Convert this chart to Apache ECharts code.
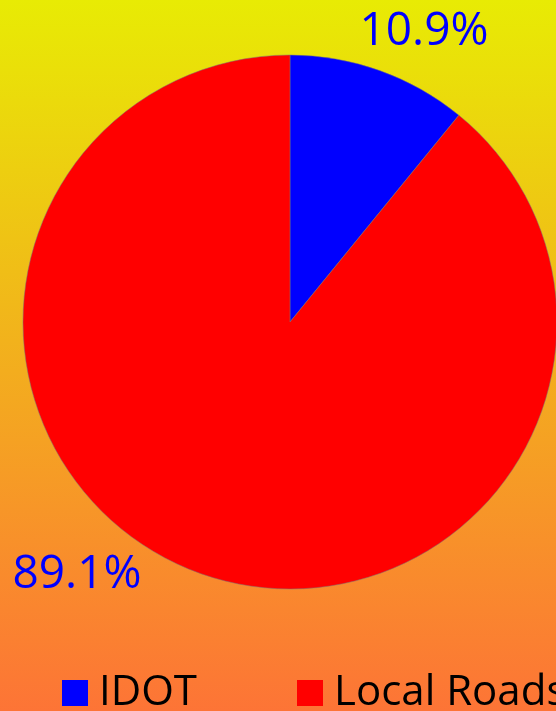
<!DOCTYPE html>
<html>
<head>
<meta charset="utf-8">
<script src="https://cdn.jsdelivr.net/npm/echarts@6/dist/echarts.min.js"></script>
<style>
  html, body { margin: 0; padding: 0; }
  #main { width: 556px; height: 711px; }
</style>
</head>
<body>
<div id="main"></div>
<script>
const categories = ['IDOT', 'Local Roads'];
const shares = [10.9, 89.1];
const sliceColors = ['#0000ff', '#ff0000'];

// label anchor spots, relative to the pie center
const labelSpots = [[134, -290], [-213, 253]];

const center = [290, 322];

let option = {
  backgroundColor: new echarts.graphic.LinearGradient(0, 0, 0, 1, [
    { offset: 0, color: '#e8eb04' },
    { offset: 1, color: '#fd7436' }
  ]),
  legend: {
    data: categories,
    left: 62,
    top: 672,
    padding: 0,
    width: 2000,
    icon: 'rect',
    itemWidth: 26,
    itemHeight: 26,
    itemGap: 100,
    itemStyle: { borderWidth: 0 },
    textStyle: {
      fontFamily: 'Open Sans',
      fontSize: 42,
      color: '#000',
      padding: [0, 0, 0, 6]
    }
  },
  series: [
    {
      type: 'pie',
      center: center,
      radius: 267,
      startAngle: 90,
      clockwise: true,
      silent: true,
      data: categories.map((name, i) => ({
        name: name,
        value: shares[i],
        itemStyle: { color: sliceColors[i] }
      })),
      itemStyle: {
        borderColor: 'rgba(120,120,120,0.5)',
        borderWidth: 1
      },
      label: {
        show: true,
        position: 'outside',
        formatter: p => p.value.toFixed(1) + '%',
        fontFamily: 'Open Sans',
        fontSize: 46,
        color: '#0000ff',
        overflow: 'none'
      },
      labelLine: { show: false },
      labelLayout: function (params) {
        const s = labelSpots[params.dataIndex];
        return {
          x: center[0] + s[0],
          y: center[1] + s[1],
          align: 'center',
          verticalAlign: 'middle'
        };
      }
    }
  ]
};

let myChart = echarts.init(document.getElementById('main'));
myChart.setOption(option);
</script>
</body>
</html>
